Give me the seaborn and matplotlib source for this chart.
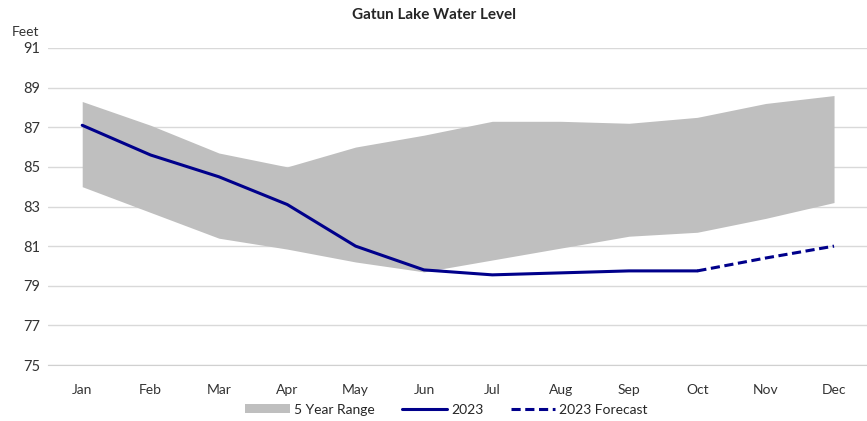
import pandas as pd
import matplotlib.pyplot as plt
import numpy as np
import seaborn as sns
from matplotlib.patches import Patch
from matplotlib.lines import Line2D

months = ['Jan', 'Feb', 'Mar', 'Apr', 'May', 'Jun', 'Jul', 'Aug', 'Sep', 'Oct', 'Nov', 'Dec']
range_high = [88.3, 87.1, 85.7, 85.0, 86.0, 86.6, 87.3, 87.3, 87.2, 87.5, 88.2, 88.6]
range_low = [84.0, 82.7, 81.4, 80.85, 80.2, 79.7, 80.3, 80.9, 81.5, 81.7, 82.4, 83.2]
level_2023 = [87.1, 85.6, 84.5, 83.1, 81.0, 79.8, 79.55, 79.65, 79.75, 79.75]
forecast_months = ['Oct', 'Nov', 'Dec']
forecast_2023 = [79.75, 80.4, 81.0]

pos = {m: i for i, m in enumerate(months)}
actual = pd.DataFrame({"pos": [pos[m] for m in months[:len(level_2023)]], "level": level_2023})
fcst = pd.DataFrame({"pos": [pos[m] for m in forecast_months], "level": forecast_2023})

sns.set_style("white")
plt.rcParams['font.family'] = ['Lato', 'DejaVu Sans']

navy = '#00008b'
fig = plt.figure(figsize=(8.67, 4.21), dpi=100)
ax = fig.add_axes([0.0554, 0.133, 0.946, 0.753])

ax.fill_between(np.arange(len(months)), range_low, range_high, color='#bfbfbf', lw=0, zorder=2)
sns.lineplot(data=actual, x="pos", y="level", color=navy, linewidth=2.2, ax=ax, zorder=3)
sns.lineplot(data=fcst, x="pos", y="level", color=navy, linewidth=2.2, ax=ax, zorder=3,
             linestyle=(0, (3, 1.5)))

ax.set_xlim(-0.5, 11.5)
ax.set_ylim(75, 91)
ax.set_yticks(range(75, 92, 2))
ax.set_xticks(range(len(months)))
ax.set_xticklabels(months)
ax.set_xticks(np.arange(-0.5, 12, 1), minor=True)
ax.tick_params(axis='x', which='major', length=0, pad=14, labelsize=10, colors='#333333')
ax.tick_params(axis='x', which='minor', length=5, color='#c8c8c8', width=1)
ax.tick_params(axis='y', length=0, pad=18, labelsize=10.5, colors='#333333')
for lab in ax.get_yticklabels():
    lab.set_horizontalalignment('left')
ax.yaxis.grid(True, color='#d9d9d9', linewidth=1, zorder=0)
ax.set_axisbelow(True)
for s in ax.spines.values():
    s.set_visible(False)
ax.spines['bottom'].set_visible(True)
ax.spines['bottom'].set_color('#d0d0d0')
ax.set_xlabel("")
ax.set_ylabel("")

fig.text(0.014, 0.925, "Feet", fontsize=10, color='#333333', ha='left', va='center')
fig.text(0.5, 0.965, "Gatun Lake Water Level", fontsize=11, fontweight='bold', ha='center', va='center')

handles = [Patch(facecolor='#bfbfbf', edgecolor='none'),
           Line2D([], [], color=navy, lw=2.2),
           Line2D([], [], color=navy, lw=2.2, linestyle=(0, (3, 1.5)))]
fig.legend(handles, ["5 Year Range", "2023", "2023 Forecast"], loc='center', ncol=3,
           bbox_to_anchor=(0.515, 0.027), frameon=False, fontsize=10, handlelength=3.2,
           handletextpad=0.3, columnspacing=2.0, handleheight=0.6)

plt.savefig("out.png", dpi=100)
